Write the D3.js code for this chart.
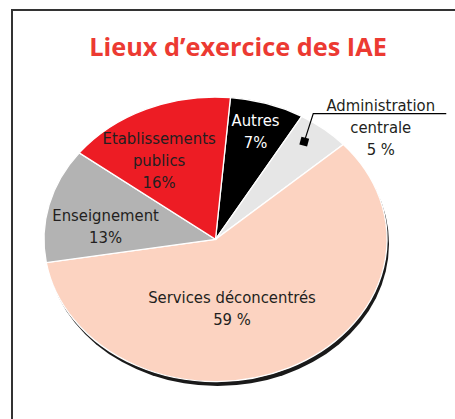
<!DOCTYPE html>
<html>
<head>
<meta charset="utf-8">
<script src="https://cdn.jsdelivr.net/npm/d3@7"></script>
<style>
  body { margin: 0; background: #fff; }
  svg { display: block; }
</style>
</head>
<body>
<svg width="455" height="419"></svg>
<script>
// data
var categories = ["Autres", "Administration centrale", "Services déconcentrés", "Enseignement", "Etablissements publics"];
var values = [7, 5, 59, 13, 16];
var valueLabels = ["7%", "5 %", "59 %", "13%", "16%"];
var nameLines = [["Autres"], ["Administration", "centrale"], ["Services déconcentrés"], ["Enseignement"], ["Etablissements", "publics"]];

var colors = ["#000000", "#e6e6e6", "#fcd3c1", "#b3b3b3", "#ed1c24"];
var textColors = ["#ffffff", "#231f20", "#231f20", "#231f20", "#231f20"];
// label anchor: [radius fraction, angle shift in degrees from slice middle]
var labelPos = [[0.79, -0.4], [0.86, -2.2], [0.495, 14.4], [0.647, -6], [0.642, -7]];

window.onload = function() {
  var svg = d3.select("svg");
  var cx = 215.5, cy = 239.3, rx = 171.5, ry = 142.3;
  var lh = 22;
  var font = "'DejaVu Sans Condensed', 'DejaVu Sans', sans-serif";

  // frame
  svg.append("path")
    .attr("d", "M12,419V10H455")
    .attr("fill", "none")
    .attr("stroke", "#333")
    .attr("stroke-width", 2);

  svg.append("text")
    .attr("x", 238)
    .attr("y", 55.5)
    .attr("text-anchor", "middle")
    .attr("font-family", "'Open Sans', sans-serif")
    .attr("font-weight", "bold")
    .attr("font-size", 25.3)
    .attr("fill", "#ec3a32")
    .text("Lieux d’exercice des IAE");

  var start = 5 * Math.PI / 180;
  var pie = d3.pie().sort(null).startAngle(start).endAngle(start + 2 * Math.PI);
  var arcs = pie(values);
  var arc = d3.arc().innerRadius(0).outerRadius(rx);

  function pt(a, r) {
    return [cx + rx * r * Math.sin(a), cy - ry * r * Math.cos(a)];
  }

  // shadow
  svg.append("path")
    .attr("transform", "translate(" + (cx + 2) + "," + (cy + 4.5) + ") scale(1," + (ry / rx) + ")")
    .attr("d", arc({startAngle: 0, endAngle: 2 * Math.PI}))
    .attr("fill", "#1a1a1a");

  var g = svg.append("g")
    .attr("transform", "translate(" + cx + "," + cy + ") scale(1," + (ry / rx) + ")");

  g.selectAll("path")
    .data(arcs)
    .enter().append("path")
    .attr("d", arc)
    .attr("fill", function(d, i) { return colors[i]; })
    .attr("stroke", "#fff")
    .attr("stroke-width", 1.3)
    .attr("vector-effect", "non-scaling-stroke");

  arcs.forEach(function(d, i) {
    var mid = (d.startAngle + d.endAngle) / 2 + labelPos[i][1] * Math.PI / 180;
    var p = pt(mid, labelPos[i][0]);
    var lines = nameLines[i].concat([valueLabels[i]]);
    var tx = p[0], y0;
    if (i === 1) {
      // outside label with leader line and square marker
      svg.append("rect")
        .attr("x", p[0] - 4).attr("y", p[1] - 4)
        .attr("width", 8).attr("height", 8)
        .attr("fill", "#000")
        .attr("transform", "rotate(15," + p[0] + "," + p[1] + ")");
      var ux = p[0] + 9, uy = p[1] - 28;
      svg.append("path")
        .attr("d", "M" + p[0] + "," + p[1] + "L" + ux + "," + uy + "H" + (ux + 133))
        .attr("fill", "none")
        .attr("stroke", "#000")
        .attr("stroke-width", 1.2);
      tx = ux + 67.5;
      y0 = uy - 3;
    } else {
      y0 = p[1] - (lines.length - 1) * lh / 2 + 5.5;
    }
    var t = svg.append("text")
      .attr("text-anchor", "middle")
      .attr("font-family", font)
      .attr("font-size", 16.5)
      .attr("fill", textColors[i]);
    lines.forEach(function(s, j) {
      t.append("tspan")
        .attr("x", tx)
        .attr("y", y0 + j * lh)
        .text(s);
    });
  });
};
</script>
</body>
</html>
